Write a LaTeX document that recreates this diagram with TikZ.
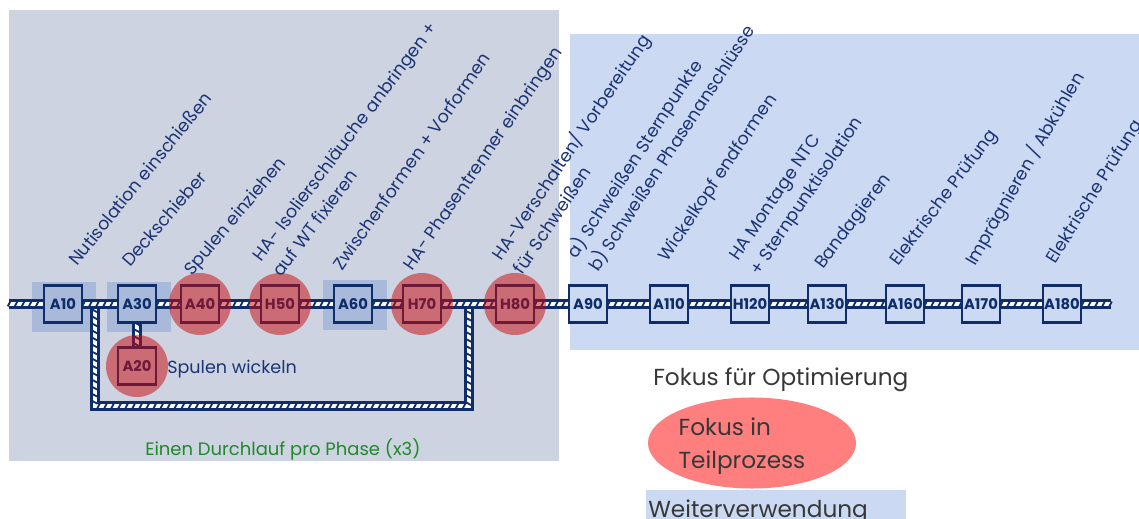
\documentclass[tikz,border=0pt]{standalone}
\usepackage{fontspec}
\setmainfont{Poppins}
\usetikzlibrary{shapes.geometric, decorations.markings}

\definecolor{navy}{RGB}{15,45,107}
\definecolor{labelblue}{RGB}{28,52,118}
\definecolor{phasegray}{RGB}{205,211,224}
\definecolor{reuseblue}{RGB}{203,217,242}
\definecolor{keyblue}{RGB}{168,185,217}
\definecolor{focusred}{RGB}{203,6,11}
\definecolor{legendred}{RGB}{255,127,127}
\definecolor{loopgreen}{RGB}{30,138,40}
\definecolor{legendtext}{RGB}{55,55,55}

\tikzset{
  box/.style={draw=navy, line width=2pt, minimum width=0.95cm, minimum height=0.92cm,
    inner sep=0pt, text=navy, font=\fontsize{10.5}{12}\selectfont\bfseries},
  keysq/.style={fill=keyblue, minimum width=1.575cm, minimum height=1.25cm},
  focus/.style={circle, fill=focusred, fill opacity=0.5, minimum size=1.55cm},
  wire/.style={draw=navy, line width=7pt,
    postaction={draw=white, line width=3.4pt},
    postaction={decorate, decoration={markings,
      mark=between positions 0 and 1 step 5pt with
        {\draw[navy, line width=1.3pt] (-0.9pt,-1.7pt) -- (0.9pt,1.7pt);}}}},
  lbl/.style={rotate=#1, anchor=base west, inner sep=0pt, align=left,
    text=labelblue, font=\fontsize{12.5}{18}\selectfont},
  lbl/.default=55,
  lbls/.style={lbl=#1, anchor=south west},
  legend/.style={anchor=base west, inner sep=0pt, text=legendtext,
    font=\fontsize{16.5}{23.4}\selectfont},
}

\begin{document}
\begin{tikzpicture}[x=0.025cm, y=-0.025cm]
\useasboundingbox (0,0) rectangle (1139,519);

% --- AREAS ---
\fill[phasegray] (9,10) rectangle (559,461);
\fill[reuseblue] (570,34) rectangle (1139,350);

\foreach \x/\y in {64/307, 139/307, 355/305}
  \node[keysq] at (\x,\y) {};

% --- PROCESS STEPS ---
\foreach \n/\x in {A10/63, A30/137, A40/200, H50/280, A60/353, H70/422, H80/515,
                   A90/588, A110/669, H120/750, A130/827, A160/905, A170/981, A180/1062}
  \node[box] (\n) at (\x,304) {\n};
\node[box] (A20) at (137,366) {A20};

\coordinate (lstart) at (9,304);
\coordinate (lend) at (1111,304);
\coordinate (loopin) at (95,304);
\coordinate (loopbot) at (280,406);
\coordinate (loopout) at (469,304);

% --- LINE ---
\draw[wire] (loopin) |- (loopbot) -| (loopout);
\draw[wire] (lstart) -- (A10);
\foreach \a/\b in {A10/A30, A30/A40, A40/H50, H50/A60, A60/H70, H70/H80, H80/A90,
                   A90/A110, A110/H120, H120/A130, A130/A160, A160/A170, A170/A180}
  \draw[wire] (\a) -- (\b);
\draw[wire] (A180) -- (lend);
\draw[wire] (A30) -- (A20);

\foreach \n in {A40, H50, H70, H80, A20}
  \node[focus] at (\n) {};

% --- LABELS ---
\node[lbl=51] (tA10) at (77,267) {Nutisolation einschießen};
\node[lbl=49] (tA30) at (130,268) {Deckschieber};
\node[lbl=50] (tA40) at (192,277) {Spulen einziehen};
\node[lbls=53] (tH50) at (282,278) {HA- Isolierschläuche anbringen +\\auf WT fixieren};
\node[lbl=55] (tA60) at (342,272) {Zwischenformen + Vorformen};
\node[lbl=55.5] (tH70) at (412,272) {HA- Phasentrenner einbringen};
\node[lbls=56] (tH80) at (523,276) {HA-Verschalten/ Vorbereitung\\für Schweißen};
\node[lbls=57] (tA90) at (601,275) {a) Schweißen Sternpunkte\\b) Schweißen Phasenanschlüsse};
\node[lbl=56] (tA110) at (667,263) {Wickelkopf endformen};
\node[lbls=56] (tH120) at (763,279) {HA Montage NTC\\+ Sternpunktisolation};
\node[lbl=53] (tA130) at (823,270) {Bandagieren};
\node[lbl=53] (tA160) at (898,267) {Elektrische Prüfung};
\node[lbl=60] (tA170) at (975,267) {Imprägnieren / Abkühlen};
\node[lbl=58] (tA180) at (1055,265) {Elektrische Prüfung};

\node[anchor=base west, inner sep=0pt, text=labelblue, font=\fontsize{12.5}{15}\selectfont]
  (tA20) at (167,373) {Spulen wickeln};
\node[anchor=base west, inner sep=0pt, text=loopgreen, font=\fontsize{12.8}{15}\selectfont]
  (tloop) at (145,455) {Einen Durchlauf pro Phase (x3)};

% --- LEGEND ---
\node[legend] (kfocus) at (653,385) {Fokus für Optimierung};
\node[ellipse, fill=legendred, minimum width=5.2cm, minimum height=2.275cm] (kpart) at (752,443) {};
\node[legend, anchor=center, align=left] (kparttext) at (742,446) {Fokus in\\Teilprozess};
\fill[reuseblue] (646,490) rectangle (906,525);
\node[legend] (kreuse) at (648,517) {Weiterverwendung};

\end{tikzpicture}
\end{document}
